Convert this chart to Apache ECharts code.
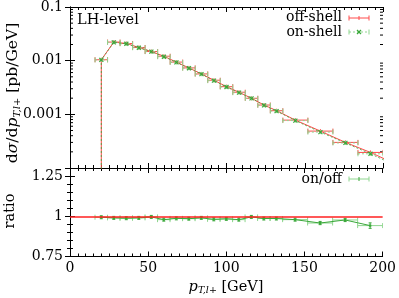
<!DOCTYPE html>
<html><head><meta charset="utf-8">
<script src="https://cdn.jsdelivr.net/npm/echarts@6/dist/echarts.min.js"></script>
<style>html,body{margin:0;padding:0;background:#fff}#c{width:399px;height:298px}</style>
</head><body><div id="c"></div>
<script>
// ---- data ----
const binLo  = [16,24,32,40,48,56,64,72,80,88,96,104,112,120,128,136,152,168,184];
const binHi  = [24,32,40,48,56,64,72,80,88,96,104,112,120,128,136,152,168,184,200];
const binMid = [20,28,36,44,52,60,68,76,84,92,100,108,116,124,132,144,160,176,192];
const offShell = [0.0104,0.0222,0.0209,0.0176,0.0148,0.0121,0.0094,0.00733,0.00566,0.00432,0.00328,0.00258,0.00199,0.00149,0.00117,0.000781,0.000487,0.000300,0.000195];
const onShell  = [0.01034,0.02198,0.02065,0.01742,0.01474,0.01185,0.00928,0.00722,0.00560,0.00424,0.00323,0.00253,0.00198,0.00147,0.00115,0.000765,0.000467,0.000293,0.000184];
const ratio    = [0.994,0.990,0.988,0.990,0.996,0.979,0.987,0.985,0.990,0.981,0.984,0.979,0.996,0.986,0.986,0.979,0.958,0.977,0.942];
const ratioErr = [0.003,0.003,0.003,0.003,0.003,0.003,0.003,0.003,0.003,0.004,0.004,0.004,0.004,0.005,0.005,0.005,0.010,0.010,0.017];
// continuation beyond the plotted range (next bin) and zero-floor before first bin
const tailX = 208, offTail = 0.000119, onTail = 0.000112;
const floorVal = 1e-7;
const topTickLabels = {'-1':'0.1','-2':'0.01','-3':'0.001'};
const ratioTickLabels = ['0.75','1','1.25'];
const xTicks = [0,50,100,150,200];

const RED = '#ff4a4a', GREEN = '#3aa83a', LGREEN = '#8fd68f';
const FONT = '"DejaVu Serif", "Liberation Serif", serif';

const chart = echarts.init(document.getElementById('c'), null, {renderer:'canvas'});

const axLine = {show:true, lineStyle:{color:'#000', width:1}};
function xAx(grid, pos, labels){
  return {gridIndex:grid, type:'value', position:pos, min:0, max:200, interval:50,
    axisLine:axLine, splitLine:{show:false},
    axisTick:{show:true, inside:true, length:5, lineStyle:{color:'#000'}},
    minorTick:{show:true, splitNumber:10, length:3, lineStyle:{color:'#000'}},
    axisLabel:{show:labels, color:'#000', fontFamily:FONT, fontSize:14, margin:5,
      formatter:v=>xTicks.includes(v)?String(v):''}};
}
function yRatio(pos, labels){
  return {gridIndex:1, type:'value', position:pos, min:0.75, max:1.3, interval:0.25,
    axisLine:axLine, splitLine:{show:false},
    axisTick:{show:true, inside:true, length:5, lineStyle:{color:'#000'}},
    minorTick:{show:true, splitNumber:5, length:3, lineStyle:{color:'#000'}},
    axisLabel:{show:labels, showMaxLabel:false, color:'#000', fontFamily:FONT, fontSize:14, margin:7,
      formatter:v=>{const i=Math.round((v-0.75)/0.25); return Math.abs(v-0.75-i*0.25)<1e-6?ratioTickLabels[i]||'':'';}}};
}
function yLog(pos, labels){
  return {gridIndex:0, type:'log', logBase:10, position:pos, min:1e-4, max:0.1,
    axisLine:axLine, splitLine:{show:false},
    axisTick:{show:true, inside:true, length:5, lineStyle:{color:'#000'}},
    axisLabel:{show:labels, color:'#000', fontFamily:FONT, fontSize:14, margin:7,
      formatter:v=>{const e=Math.round(Math.log10(v)); return topTickLabels[String(e)]||'';}}};
}

// log minor ticks
const logMinor = [];
for (let d=-4; d<=-2; d++) for (let k=2;k<=9;k++) logMinor.push(k*Math.pow(10,d));

function minorRender(params, api){
  const cs = params.coordSys;
  const p = api.coord([0, api.value(0)]);
  const y = p[1];
  return {type:'group', children:[
    {type:'line', shape:{x1:cs.x, y1:y, x2:cs.x+3, y2:y}, style:{stroke:'#000', lineWidth:1}},
    {type:'line', shape:{x1:cs.x+cs.width, y1:y, x2:cs.x+cs.width-3, y2:y}, style:{stroke:'#000', lineWidth:1}}
  ]};
}

function barRender(color, dash, cross){
  return function(params, api){
    const v = api.value(3);
    const a = api.coord([api.value(0), v]);
    const b = api.coord([api.value(1), v]);
    const c = api.coord([api.value(2), v]);
    const st = {stroke:color, lineWidth:1, lineDash: dash?[2,2]:null};
    const ch = [
      {type:'line', shape:{x1:a[0], y1:a[1], x2:b[0], y2:b[1]}, style:st},
      {type:'line', shape:{x1:a[0], y1:a[1]-2.5, x2:a[0], y2:a[1]+2.5}, style:{stroke:color, lineWidth:1}},
      {type:'line', shape:{x1:b[0], y1:b[1]-2.5, x2:b[0], y2:b[1]+2.5}, style:{stroke:color, lineWidth:1}},
      {type:'line', shape:{x1:c[0], y1:c[1]-2, x2:c[0], y2:c[1]+2}, style:{stroke:color, lineWidth:1}}
    ];
    if (cross) {
      const s=2;
      ch.push({type:'line', shape:{x1:c[0]-s,y1:c[1]-s,x2:c[0]+s,y2:c[1]+s}, style:{stroke:GREEN,lineWidth:1.2}});
      ch.push({type:'line', shape:{x1:c[0]-s,y1:c[1]+s,x2:c[0]+s,y2:c[1]-s}, style:{stroke:GREEN,lineWidth:1.2}});
    }
    return {type:'group', children:ch};
  };
}

function ratioRender(params, api){
  const v = api.value(3), e = api.value(4);
  const a = api.coord([api.value(0), v]);
  const b = api.coord([api.value(1), v]);
  const c = api.coord([api.value(2), v]);
  const t = api.coord([api.value(2), v+e]);
  const d = api.coord([api.value(2), v-e]);
  const st = {stroke:LGREEN, lineWidth:1};
  const sd = {stroke:GREEN, lineWidth:1};
  const top = Math.min(t[1],c[1]-1.5), bot = Math.max(d[1],c[1]+1.5);
  return {type:'group', children:[
    {type:'line', shape:{x1:a[0], y1:a[1], x2:b[0], y2:b[1]}, style:st},
    {type:'line', shape:{x1:a[0], y1:a[1]-2.5, x2:a[0], y2:a[1]+2.5}, style:st},
    {type:'line', shape:{x1:b[0], y1:b[1]-2.5, x2:b[0], y2:b[1]+2.5}, style:st},
    {type:'line', shape:{x1:c[0], y1:top, x2:c[0], y2:bot}, style:sd},
    {type:'line', shape:{x1:c[0]-1.5, y1:top, x2:c[0]+1.5, y2:top}, style:sd},
    {type:'line', shape:{x1:c[0]-1.5, y1:bot, x2:c[0]+1.5, y2:bot}, style:sd},
    {type:'rect', shape:{x:c[0]-1.2, y:c[1]-1.2, width:2.4, height:2.4}, style:{fill:GREEN}}
  ]};
}

const offLine = [[binMid[0], floorVal]].concat(binMid.map((x,i)=>[x, offShell[i]])).concat([[tailX, offTail]]);
const onLine  = [[binMid[0], floorVal]].concat(binMid.map((x,i)=>[x, onShell[i]])).concat([[tailX, onTail]]);
const offBars = binLo.map((lo,i)=>[lo, binHi[i], binMid[i], offShell[i]]);
const onBars  = binLo.map((lo,i)=>[lo, binHi[i], binMid[i], onShell[i]]);
const ratioBars = binLo.map((lo,i)=>[lo, binHi[i], binMid[i], ratio[i], ratioErr[i]]);
const ratioLine = binMid.map((x,i)=>[x, ratio[i]]);

const T = '14px '+FONT, TL = '14.5px '+FONT, TY = '15.5px '+FONT;
const richSub = {i:{fontStyle:'italic', fontFamily:FONT, fontSize:14.5}, s:{fontFamily:FONT, fontSize:9.5, fontStyle:'italic', padding:[8,0,0,0]}};
const richSubY = {i:{fontStyle:'italic', fontFamily:FONT, fontSize:15.5}, s:{fontFamily:FONT, fontSize:10, fontStyle:'italic', padding:[8,0,0,0]}};

const option = {
  animation:false,
  backgroundColor:'#fff',
  grid:[
    {left:70, top:7, width:313, height:161},
    {left:70, top:168, width:313, height:88.5}
  ],
  xAxis:[ xAx(0,'bottom',false), xAx(1,'bottom',true), xAx(0,'top',false), xAx(1,'top',false) ],
  yAxis:[ yLog('left',true), yRatio('left',true), yLog('right',false), yRatio('right',false) ],
  series:[
    {type:'custom', xAxisIndex:0, yAxisIndex:0, data:logMinor.map(v=>[v]), encode:{y:0}, renderItem:minorRender, silent:true, z:1},
    {type:'line', xAxisIndex:0, yAxisIndex:0, data:offLine, showSymbol:false, symbol:'none',
      lineStyle:{color:RED, width:1}, clip:true, z:3},
    {type:'line', xAxisIndex:0, yAxisIndex:0, data:onLine, showSymbol:false, symbol:'none',
      lineStyle:{color:GREEN, width:1, type:[2,2], opacity:0.8}, clip:true, z:4},
    {type:'custom', xAxisIndex:0, yAxisIndex:0, data:offBars, encode:{x:[0,1,2], y:3}, renderItem:barRender(RED,false,false), clip:true, z:3},
    {type:'custom', xAxisIndex:0, yAxisIndex:0, data:onBars, encode:{x:[0,1,2], y:3}, renderItem:barRender(LGREEN,true,true), clip:true, z:4},
    {type:'line', xAxisIndex:1, yAxisIndex:1, data:ratioLine, showSymbol:false, symbol:'none',
      lineStyle:{color:GREEN, width:1}, z:4,
      markLine:{silent:true, symbol:'none', label:{show:false}, lineStyle:{color:'#ff2020', width:1.5, type:'solid'},
        data:[{yAxis:1}]}},
    {type:'custom', xAxisIndex:1, yAxisIndex:1, data:ratioBars, encode:{x:[0,1,2], y:3}, renderItem:ratioRender, clip:true, z:3}
  ],
  graphic:[
    {type:'text', x:77, y:20, style:{text:'LH-level', font:TL, fill:'#000', verticalAlign:'middle'}},
    {type:'text', x:342, y:17, style:{text:'off-shell', font:T, fill:'#000', align:'right', verticalAlign:'middle'}},
    {type:'text', x:342, y:32, style:{text:'on-shell', font:T, fill:'#000', align:'right', verticalAlign:'middle'}},
    {type:'text', x:342, y:179, style:{text:'on/off', font:T, fill:'#000', align:'right', verticalAlign:'middle'}},
    // legend samples
    {type:'line', shape:{x1:349,y1:18,x2:369,y2:18}, style:{stroke:RED,lineWidth:1}},
    {type:'line', shape:{x1:349,y1:15.5,x2:349,y2:20.5}, style:{stroke:RED,lineWidth:1}},
    {type:'line', shape:{x1:369,y1:15.5,x2:369,y2:20.5}, style:{stroke:RED,lineWidth:1}},
    {type:'line', shape:{x1:359,y1:16,x2:359,y2:20}, style:{stroke:RED,lineWidth:1}},
    {type:'line', shape:{x1:349,y1:32,x2:369,y2:32}, style:{stroke:LGREEN,lineWidth:1,lineDash:[2,2]}},
    {type:'line', shape:{x1:349,y1:29.5,x2:349,y2:34.5}, style:{stroke:LGREEN,lineWidth:1}},
    {type:'line', shape:{x1:369,y1:29.5,x2:369,y2:34.5}, style:{stroke:LGREEN,lineWidth:1}},
    {type:'line', shape:{x1:357,y1:30,x2:361,y2:34}, style:{stroke:GREEN,lineWidth:1.2}},
    {type:'line', shape:{x1:357,y1:34,x2:361,y2:30}, style:{stroke:GREEN,lineWidth:1.2}},
    {type:'line', shape:{x1:349,y1:179,x2:369,y2:179}, style:{stroke:LGREEN,lineWidth:1}},
    {type:'line', shape:{x1:349,y1:176.5,x2:349,y2:181.5}, style:{stroke:LGREEN,lineWidth:1}},
    {type:'line', shape:{x1:369,y1:176.5,x2:369,y2:181.5}, style:{stroke:LGREEN,lineWidth:1}},
    {type:'line', shape:{x1:359,y1:177,x2:359,y2:181}, style:{stroke:GREEN,lineWidth:1}},
    // axis titles
    {type:'text', x:13, y:93, rotation:Math.PI/2,
      style:{text:'d{i|σ}/d{i|p}{s|T,l+} [pb/GeV]', font:TY, fill:'#000', align:'center', verticalAlign:'middle', rich:richSubY}},
    {type:'text', x:10, y:211, rotation:Math.PI/2,
      style:{text:'ratio', font:TL, fill:'#000', align:'center', verticalAlign:'middle'}},
    {type:'text', x:226, y:287,
      style:{text:'{i|p}{s|T,l+} [GeV]', font:TL, fill:'#000', align:'center', verticalAlign:'middle', rich:richSub}}
  ]
};
chart.setOption(option);
</script></body></html>
